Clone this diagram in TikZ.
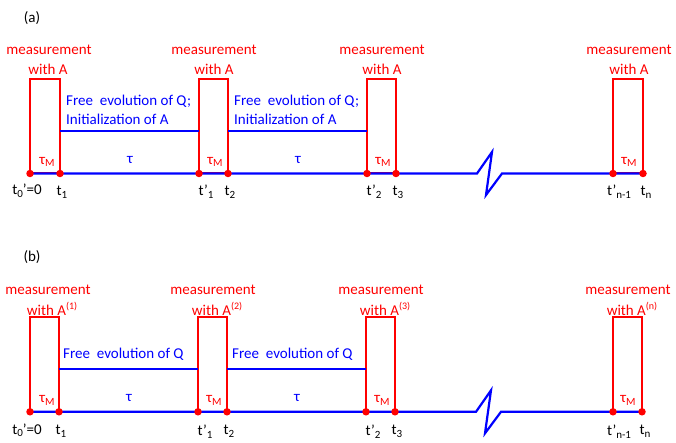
\documentclass[tikz,border=0pt]{standalone}
\usepackage{fontspec}
\setmainfont{Carlito}
\newcommand\lo[1]{\raisebox{-0.4ex}{\fontsize{11}{11}\selectfont#1}}
\newcommand\hi[1]{\raisebox{0.75ex}{\fontsize{10}{10}\selectfont#1}}
\definecolor{rr}{RGB}{255,0,0}
\definecolor{bb}{RGB}{0,0,255}
\tikzset{
  mbox/.style={draw=rr, line width=2pt},
  dot/.style={circle, fill=rr, inner sep=0pt, minimum size=7.5pt},
  axisline/.style={draw=bb, line width=2.2pt},
  evo/.style={draw=bb, line width=1.6pt},
  rtxt/.style={text=rr, font=\fontsize{15}{18}\selectfont, inner sep=0pt},
  btxt/.style={text=bb, font=\fontsize{15}{19}\selectfont, inner sep=0pt, align=left, anchor=west},
  ktxt/.style={text=black, font=\fontsize{15}{18}\selectfont, inner sep=0pt},
}
\begin{document}
\begin{tikzpicture}[x=1pt,y=-1pt]
\useasboundingbox (0,0) rectangle (676,443);
% ---------- panel (a)
\node[ktxt] (la) at (32,18) {(a)};
\foreach \n/\x in {1/30,2/60,3/199,4/228,5/367,6/396,7/613,8/643}{
  \coordinate (a\n) at (\x,173.5);
  \coordinate (at\n) at (\x,79);
}
\coordinate (ae1) at (60,131); \coordinate (ae2) at (199,131);
\coordinate (ae3) at (228,131); \coordinate (ae4) at (367,131);
\coordinate (az1) at (477,173.5); \coordinate (az2) at (492,152);
\coordinate (az3) at (486,195); \coordinate (az4) at (502,173.5);
\draw[mbox] (a1) -- (at1) -- (at2) -- (a2) -- cycle;
\draw[mbox] (a3) -- (at3) -- (at4) -- (a4) -- cycle;
\draw[mbox] (a5) -- (at5) -- (at6) -- (a6) -- cycle;
\draw[mbox] (a7) -- (at7) -- (at8) -- (a8) -- cycle;
\draw[axisline] (a1) -- (az1) -- (az2) -- (az3) -- (az4) -- (a8);
\draw[evo] (ae1) -- (ae2);
\draw[evo] (ae3) -- (ae4);
\foreach \n in {1,...,8}{\node[dot] (ad\n) at (a\n) {};}
\node[rtxt] (am1) at (49,50) {measurement};
\node[rtxt] (aw1) at (48,69) {with A};
\node[rtxt] (am2) at (214,50) {measurement};
\node[rtxt] (aw2) at (214,69) {with A};
\node[rtxt] (am3) at (382,50) {measurement};
\node[rtxt] (aw3) at (382,69) {with A};
\node[rtxt] (am4) at (629,50) {measurement};
\node[rtxt] (aw4) at (629,69) {with A};
\node[btxt] (af1) at (66,109.5) {Free~~evolution of Q;\\Initialization of A};
\node[btxt] (af2) at (234,109.5) {Free~~evolution of Q;\\Initialization of A};
\node[rtxt] (atm1) at (47,162) {τ\lo{M}};
\node[rtxt] (atm2) at (215,162) {τ\lo{M}};
\node[rtxt] (atm3) at (383,162) {τ\lo{M}};
\node[rtxt] (atm4) at (629,162) {τ\lo{M}};
\node[text=bb, font=\fontsize{15}{18}\selectfont, inner sep=0pt] (ata1) at (130,160) {τ};
\node[text=bb, font=\fontsize{15}{18}\selectfont, inner sep=0pt] (ata2) at (298,160) {τ};
\node[ktxt] (al1) at (27,191) {t\lo{0}’=0};
\node[ktxt] (al2) at (62,192) {t\lo{1}};
\node[ktxt] (al3) at (206,192) {t’\lo{1}};
\node[ktxt] (al4) at (230,192) {t\lo{2}};
\node[ktxt] (al5) at (374,192) {t’\lo{2}};
\node[ktxt] (al6) at (398,192) {t\lo{3}};
\node[ktxt] (al7) at (619,192) {t’\lo{n-1}};
\node[ktxt] (al8) at (646,192) {t\lo{n}};
% ---------- panel (b)
\begin{scope}[yshift=-238.3pt]
\node[ktxt] (lb) at (32,18.5) {(b)};
\foreach \n/\x in {1/30,2/59,3/198,4/227,5/366,6/395,7/613,8/642}{
  \coordinate (b\n) at (\x,173.5);
  \coordinate (bt\n) at (\x,79);
}
\coordinate (be1) at (59,130.5); \coordinate (be2) at (198,130.5);
\coordinate (be3) at (227,130.5); \coordinate (be4) at (366,130.5);
\coordinate (bz1) at (476,173.5); \coordinate (bz2) at (491,152);
\coordinate (bz3) at (485,195); \coordinate (bz4) at (501,173.5);
\draw[mbox] (b1) -- (bt1) -- (bt2) -- (b2) -- cycle;
\draw[mbox] (b3) -- (bt3) -- (bt4) -- (b4) -- cycle;
\draw[mbox] (b5) -- (bt5) -- (bt6) -- (b6) -- cycle;
\draw[mbox] (b7) -- (bt7) -- (bt8) -- (b8) -- cycle;
\draw[axisline] (b1) -- (bz1) -- (bz2) -- (bz3) -- (bz4) -- (b8);
\draw[evo] (be1) -- (be2);
\draw[evo] (be3) -- (be4);
\foreach \n in {1,...,8}{\node[dot] (bd\n) at (b\n) {};}
\node[rtxt] (bm1) at (48,52) {measurement};
\node[rtxt] (bw1) at (52,70.5) {with A\hi{(1)}};
\node[rtxt] (bm2) at (213,52) {measurement};
\node[rtxt] (bw2) at (217,70.5) {with A\hi{(2)}};
\node[rtxt] (bm3) at (381,52) {measurement};
\node[rtxt] (bw3) at (385,70.5) {with A\hi{(3)}};
\node[rtxt] (bm4) at (628,52) {measurement};
\node[rtxt] (bw4) at (632,70.5) {with A\hi{(n)}};
\node[btxt] (bf1) at (63,116) {Free~~evolution of Q};
\node[btxt] (bf2) at (232,116) {Free~~evolution of Q};
\node[rtxt] (btm1) at (47,162) {τ\lo{M}};
\node[rtxt] (btm2) at (214,162) {τ\lo{M}};
\node[rtxt] (btm3) at (382,162) {τ\lo{M}};
\node[rtxt] (btm4) at (628,162) {τ\lo{M}};
\node[text=bb, font=\fontsize{15}{18}\selectfont, inner sep=0pt] (bta1) at (129,160) {τ};
\node[text=bb, font=\fontsize{15}{18}\selectfont, inner sep=0pt] (bta2) at (297,160) {τ};
\node[ktxt] (bl1) at (27,192) {t\lo{0}’=0};
\node[ktxt] (bl2) at (61,193) {t\lo{1}};
\node[ktxt] (bl3) at (205,193) {t’\lo{1}};
\node[ktxt] (bl4) at (229,193) {t\lo{2}};
\node[ktxt] (bl5) at (373,193) {t’\lo{2}};
\node[ktxt] (bl6) at (397,193) {t\lo{3}};
\node[ktxt] (bl7) at (619,193) {t’\lo{n-1}};
\node[ktxt] (bl8) at (645,193) {t\lo{n}};
\end{scope}
\end{tikzpicture}
\end{document}
